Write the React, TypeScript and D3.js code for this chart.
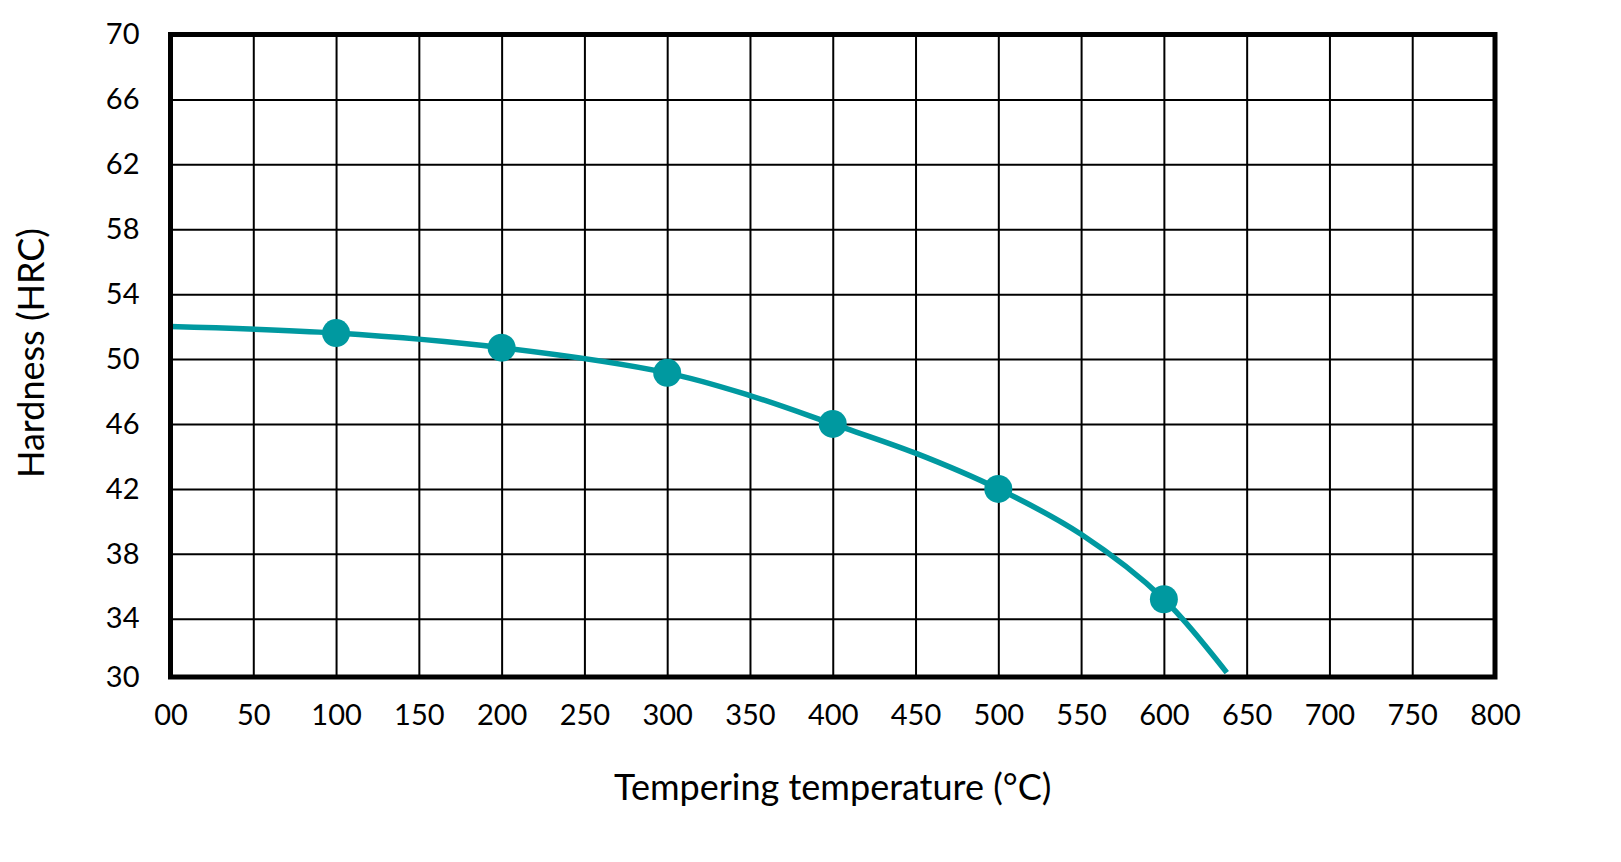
import React, { useRef, useEffect } from "react";
import * as d3 from "d3";

// temperatures (°C) where the markers sit, and hardness
const markerTemps = [100, 200, 300, 400, 500, 600];
const markerHardness = [51.6, 50.7, 49.15, 46.0, 42.0, 35.2];

// points along the smooth curve
const curveTemps = [0, 100, 200, 300, 350, 400, 450, 500, 550, 600, 638];
const curveHardness = [52.0, 51.6, 50.7, 49.15, 47.75, 46.0, 44.2, 42.0, 39.2, 35.2, 30.3];

const xTicks = [0, 50, 100, 150, 200, 250, 300, 350, 400, 450, 500, 550, 600, 650, 700, 750, 800];
const xTickLabels = ["00", "50", "100", "150", "200", "250", "300", "350", "400", "450", "500", "550", "600", "650", "700", "750", "800"];
const yTicks = [30, 34, 38, 42, 46, 50, 54, 58, 62, 66, 70];
const yTickLabels = ["30", "34", "38", "42", "46", "50", "54", "58", "62", "66", "70"];

const xTitle = "Tempering temperature (°C)";
const yTitle = "Hardness (HRC)";

const TEAL = "#0099a0";
const FONT = "Lato, 'Open Sans', sans-serif";

const HardnessChart = () => {
    const ref = useRef<SVGSVGElement | null>(null);

    useEffect(() => {
        const width = 1621;
        const height = 862;
        const left = 170.5;
        const right = 1495;
        const top = 34.5;
        const bottom = 677;

        const svg = d3.select(ref.current);
        svg.selectAll("*").remove();
        svg.attr("width", width).attr("height", height);

        // Scales (the lowest band is drawn a little shorter than the others)
        const x = d3.scaleLinear().domain([0, 800]).range([left, right]);
        const y = d3.scaleLinear().domain([30, 34, 70]).range([bottom, 618.7, top]);

        // Grid
        const grid = svg.append("g");
        grid.append("g")
            .attr("transform", `translate(0,${bottom})`)
            .call(d3.axisBottom(x).tickValues(xTicks.slice(1, -1)).tickSize(-(bottom - top)).tickFormat(() => ""))
            .call((g) => g.select(".domain").remove());
        grid.append("g")
            .attr("transform", `translate(${left},0)`)
            .call(d3.axisLeft(y).tickValues(yTicks.slice(1, -1)).tickSize(-(right - left)).tickFormat(() => ""))
            .call((g) => g.select(".domain").remove());
        grid.selectAll("line").attr("stroke", "#000").attr("stroke-width", 2);

        // X axis labels
        const xAxis = svg.append("g")
            .attr("transform", `translate(0,${bottom})`)
            .call(
                d3.axisBottom(x)
                    .tickValues(xTicks)
                    .tickSize(0)
                    .tickPadding(27)
                    .tickFormat((_d, i) => xTickLabels[i])
            );
        xAxis.select(".domain").remove();
        xAxis.selectAll("text").attr("font-size", 29).attr("font-family", FONT).attr("fill", "#000");

        // Y axis labels
        const yAxis = svg.append("g")
            .attr("transform", `translate(${left},0)`)
            .call(
                d3.axisLeft(y)
                    .tickValues(yTicks)
                    .tickSize(0)
                    .tickPadding(31)
                    .tickFormat((_d, i) => yTickLabels[i])
            );
        yAxis.select(".domain").remove();
        yAxis.selectAll("text").attr("font-size", 29).attr("font-family", FONT).attr("fill", "#000");

        // Curve
        const line = d3
            .line<number>()
            .x((_d, i) => x(curveTemps[i]))
            .y((d) => y(d))
            .curve(d3.curveCatmullRom.alpha(0.5));
        svg.append("path")
            .datum(curveHardness)
            .attr("fill", "none")
            .attr("stroke", TEAL)
            .attr("stroke-width", 5.5)
            .attr("d", line);

        // Markers
        svg.append("g")
            .selectAll("circle")
            .data(markerHardness)
            .enter()
            .append("circle")
            .attr("cx", (_d, i) => x(markerTemps[i]))
            .attr("cy", (d) => y(d))
            .attr("r", 14)
            .attr("fill", TEAL);

        // Frame
        svg.append("rect")
            .attr("x", left)
            .attr("y", top)
            .attr("width", right - left)
            .attr("height", bottom - top)
            .attr("fill", "none")
            .attr("stroke", "#000")
            .attr("stroke-width", 5);

        // Titles
        svg.append("text")
            .attr("x", (left + right) / 2)
            .attr("y", 800)
            .attr("text-anchor", "middle")
            .attr("font-size", 36)
            .attr("font-family", FONT)
            .attr("fill", "#000")
            .text(xTitle);
        svg.append("text")
            .attr("transform", `translate(44,353) rotate(-90)`)
            .attr("text-anchor", "middle")
            .attr("font-size", 36)
            .attr("font-family", FONT)
            .attr("fill", "#000")
            .text(yTitle);
    }, []);

    return <svg ref={ref} style={{ position: "absolute", left: 0, top: 0, background: "#fff" }} />;
};

export default function App() {
    return <HardnessChart />;
}
